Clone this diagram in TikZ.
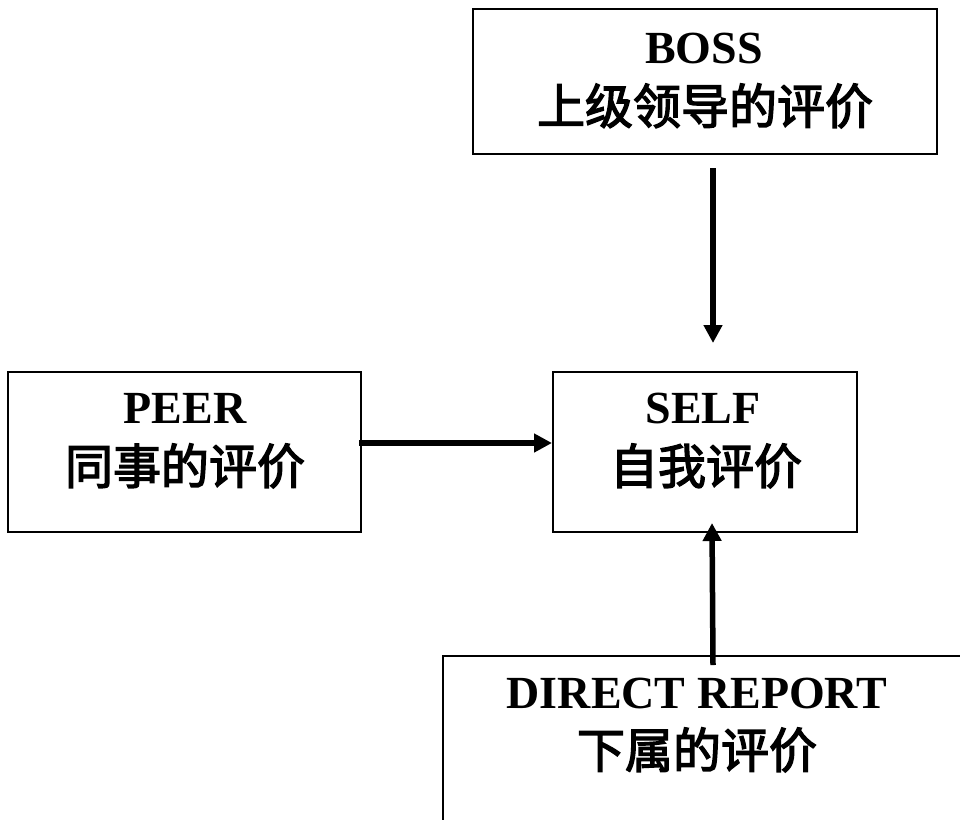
\documentclass[tikz,border=0pt]{standalone}
\usepackage{fontspec}
\setmainfont{Liberation Serif}
\newfontfamily\cjk[FakeBold=2.8]{Noto Sans CJK SC}
\usetikzlibrary{arrows.meta,calc}
\tikzset{
  box/.style={draw=black, line width=2pt, rectangle, inner sep=0pt},
  lat/.style={font=\fontsize{46pt}{50pt}\selectfont\bfseries, inner sep=0pt, anchor=base},
  zh/.style={font=\fontsize{48pt}{52pt}\selectfont\cjk, inner sep=0pt, anchor=base},
  arr/.style={line width=5.5pt, -{Triangle[length=18pt,width=18pt]}}
}
\begin{document}
\begin{tikzpicture}[x=1pt,y=-1pt]
\useasboundingbox (0,0) rectangle (960,819);
\clip (0,0) rectangle (960,819);
% boxes
\node[box, minimum width=464pt, minimum height=145pt] (boss) at (705,81.5) {};
\node[box, minimum width=353pt, minimum height=160pt] (peer) at (184.5,452) {};
\node[box, minimum width=304pt, minimum height=160pt] (self) at (705,452) {};
\node[box, anchor=north west, minimum width=540pt, minimum height=200pt] (dr) at (442,655) {};
% texts
\node[lat] (bossa) at (704,63) {BOSS};
\node[zh] (bossb) at (705,124) {上级领导的评价};
\node[lat] (peera) at (185,423) {PEER};
\node[zh] (peerb) at (185,484) {同事的评价};
\node[lat] (selfa) at (703,423) {SELF};
\node[zh] (selfb) at (706,484) {自我评价};
\node[lat] (dra) at (697,708) {DIRECT REPORT};
\node[zh] (drb) at (697,768) {下属的评价};
% arrows
\draw[arr] ([xshift=8pt,yshift=-13pt]boss.south) -- ([xshift=8pt,yshift=28pt]self.north);
\draw[arr] ([xshift=-3pt,yshift=9pt]peer.east) -- ([yshift=9pt]self.west);
\draw[arr] ([yshift=-10pt]dr.north) -- ([xshift=7pt,yshift=10pt]self.south);
\end{tikzpicture}
\end{document}
